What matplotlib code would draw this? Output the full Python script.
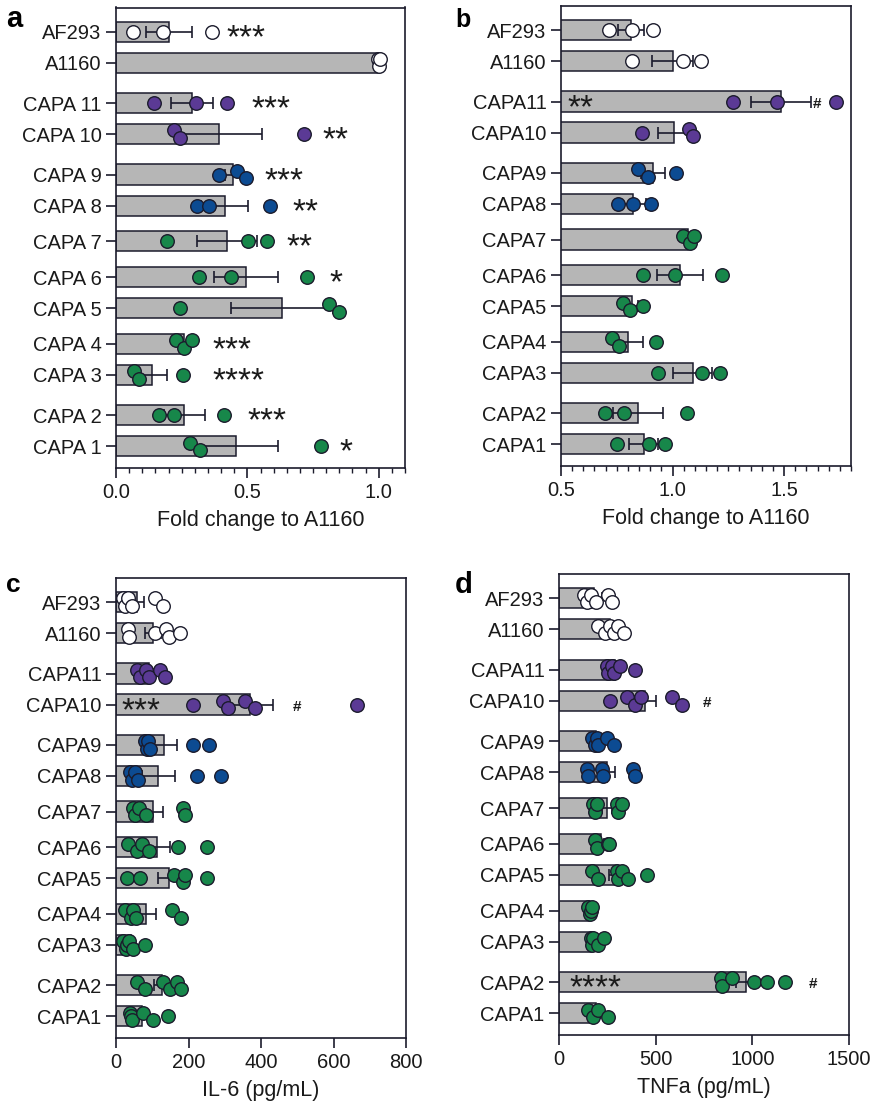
import numpy as np
import matplotlib
matplotlib.use('Agg')
import matplotlib.pyplot as plt
from matplotlib import rcParams, transforms
from matplotlib.ticker import MultipleLocator, FormatStrFormatter

rcParams['font.family'] = ['Liberation Sans', 'DejaVu Sans']

# --- data ---
labels_a = ['AF293', 'A1160', 'CAPA 11', 'CAPA 10', 'CAPA 9', 'CAPA 8', 'CAPA 7',
            'CAPA 6', 'CAPA 5', 'CAPA 4', 'CAPA 3', 'CAPA 2', 'CAPA 1']
labels = ['AF293', 'A1160', 'CAPA11', 'CAPA10', 'CAPA9', 'CAPA8', 'CAPA7',
          'CAPA6', 'CAPA5', 'CAPA4', 'CAPA3', 'CAPA2', 'CAPA1']
groups = ['wt', 'wt', 'purple', 'purple', 'blue', 'blue',
          'green', 'green', 'green', 'green', 'green', 'green', 'green']

a_bar = [0.203, 1.0, 0.288, 0.392, 0.446, 0.414, 0.423, 0.494, 0.631, 0.257, 0.136, 0.26, 0.458]
a_err = [0.088, 0.0, 0.080, 0.162, 0.030, 0.089, 0.114, 0.122, 0.194, 0.018, 0.057, 0.077, 0.159]
a_pts = [[0.063, 0.18, 0.364], [0.996, 1.0, 1.004], [0.146, 0.304, 0.421], [0.222, 0.243, 0.715],
         [0.392, 0.459, 0.493], [0.307, 0.355, 0.586], [0.196, 0.503, 0.573], [0.317, 0.437, 0.727],
         [0.244, 0.809, 0.847], [0.228, 0.26, 0.29], [0.07, 0.088, 0.254], [0.164, 0.219, 0.412],
         [0.28, 0.318, 0.779]]

b_bar = [0.813, 1.0, 1.487, 1.007, 0.913, 0.823, 1.07, 1.033, 0.817, 0.802, 1.09, 0.843, 0.87]
b_err = [0.057, 0.09, 0.134, 0.07, 0.054, 0.057, 0.015, 0.102, 0.027, 0.066, 0.087, 0.112, 0.063]
b_pts = [[0.716, 0.82, 0.913], [0.82, 1.048, 1.127], [1.272, 1.467, 1.731], [0.865, 1.075, 1.093],
         [0.843, 0.889, 1.015], [0.757, 0.823, 0.903], [1.045, 1.079, 1.097], [0.868, 1.012, 1.222],
         [0.778, 0.81, 0.868], [0.728, 0.76, 0.925], [0.937, 1.13, 1.213], [0.696, 0.783, 1.063],
         [0.749, 0.895, 0.967]]

c_bar = [57, 103, 91, 370, 133, 117, 103, 114, 147, 83, 40, 126, 71]
c_err = [20, 22, 12, 64, 34, 46, 28, 35, 32, 27, 9, 20, 16]
c_pts = [[20, 25, 34, 43, 108, 129], [34, 37, 108, 138, 145, 177], [57, 66, 83, 92, 121, 135],
         [213, 294, 310, 356, 383, 664], [80, 85, 89, 94, 213, 257], [39, 45, 52, 62, 224, 290],
         [48, 52, 64, 83, 186, 190], [34, 59, 71, 92, 172, 252], [31, 66, 160, 184, 190, 250],
         [25, 40, 48, 55, 154, 179], [20, 28, 29, 37, 48, 80], [57, 80, 129, 149, 167, 179],
         [39, 40, 45, 75, 101, 144]]

d_bar = [183, 264, 290, 445, 190, 247, 247, 217, 298, 155, 165, 969, 190]
d_err = [40, 22, 22, 57, 20, 45, 25, 15, 38, 5, 12, 55, 22]
d_pts = [[131, 143, 166, 190, 255, 276], [203, 238, 264, 286, 303, 338], [247, 255, 276, 286, 316, 393],
         [264, 350, 393, 424, 583, 638], [172, 186, 195, 203, 247, 286], [143, 152, 221, 229, 384, 393],
         [178, 186, 195, 298, 307, 324], [186, 195, 255, 259], [172, 203, 298, 307, 324, 359, 457],
         [150, 160, 165, 172], [166, 172, 178, 203, 234], [836, 845, 893, 1009, 1078, 1169],
         [152, 178, 203, 255]]

# significance marks: (row, x, text)
a_stars = [(0, 0.42, '***'), (2, 0.517, '***'), (3, 0.787, '**'), (4, 0.567, '***'),
           (5, 0.673, '**'), (6, 0.65, '**'), (7, 0.814, '*'), (9, 0.369, '***'),
           (10, 0.369, '****'), (11, 0.502, '***'), (12, 0.852, '*')]
b_stars = [(2, 0.531, '**')]
b_hash = [(2, 1.628)]
c_stars = [(3, 16, '***')]
c_hash = [(3, 488)]
d_stars = [(11, 52, '****')]
d_hash = [(3, 745), (11, 1293)]

# --- style ---
colors = {'wt': 'white', 'purple': '#5b3a95', 'blue': '#0c4b92', 'green': '#17874a'}
edge = '#1b1b2c'
bar_fill = '#b6b6b6'
W, H = 872, 1110

steps = [1, 1.3, 1, 1.3, 1, 1.15, 1.15, 1, 1.15, 1, 1.3, 1]
ypos = np.concatenate([[0], np.cumsum(steps)])

fig = plt.figure(figsize=(W / 100, H / 100), dpi=100)


def jitter(vals, px_per_unit, diam=12.0, d=0.12):
    # simple up/down stagger for dots that overlap along x
    vals = np.asarray(vals, dtype=float)
    order = np.argsort(vals)
    offs = np.zeros(len(vals))
    clusters = [[order[0]]]
    for i in order[1:]:
        gap = (vals[i] - vals[clusters[-1][-1]]) * px_per_unit
        if gap < 1:
            continue
        if gap < diam * 0.9:
            clusters[-1].append(i)
        else:
            clusters.append([i])
    for cl in clusters:
        if len(cl) > 1:
            for k, i in enumerate(cl):
                offs[i] = d if k % 2 else -d
    return offs


def panel(rect, names, bars, errs, pts, xlim, xlabel, stars, hashes, letter, letter_pos, letter_fs):
    ax = fig.add_axes(rect)
    ax.barh(ypos, bars, height=0.65, color=bar_fill, edgecolor=edge, linewidth=1.1, zorder=1)
    ax.errorbar(bars, ypos, xerr=errs, fmt='none', ecolor=edge, elinewidth=1.2,
                capsize=4.5, capthick=1.2, zorder=2)
    ppu = rect[2] * W / (xlim[1] - xlim[0])
    for i, p in enumerate(pts):
        off = jitter(p, ppu)
        ax.scatter(p, ypos[i] + off, s=95, c=colors[groups[i]], edgecolors=edge,
                   linewidths=1.0, zorder=3, clip_on=False)
    star_tr = transforms.offset_copy(ax.transData, fig=fig, y=-11, units='points')
    for row, x, txt in stars:
        ax.text(x, ypos[row], txt, transform=star_tr, fontsize=24,
                va='baseline', ha='left', color='#1a1a1a', zorder=4)
    hash_tr = transforms.offset_copy(ax.transData, fig=fig, y=-4.5, units='points')
    for row, x in hashes:
        ax.text(x, ypos[row], '#', transform=hash_tr, fontsize=11, fontweight='bold',
                va='baseline', ha='left', color='#1a1a1a', zorder=4)
    ax.set_xlim(*xlim)
    ax.set_ylim(14.05, -0.78)
    ax.set_yticks(ypos)
    ax.set_yticklabels(names)
    ax.set_xlabel(xlabel, fontsize=15.5, labelpad=6, color='#1a1a1a')
    for s in ax.spines.values():
        s.set_color(edge)
        s.set_linewidth(1.2)
    ax.tick_params(axis='both', labelsize=14.5, colors=edge, labelcolor='#1a1a1a',
                   width=1.2, length=7, pad=3.5)
    ax.tick_params(axis='x', which='minor', width=1.0, length=3.5, colors=edge)
    fig.text(letter_pos[0] / W, 1 - letter_pos[1] / H, letter, fontsize=letter_fs,
             fontweight='bold', ha='left', va='baseline')
    return ax


ax1 = panel([116 / W, 1 - 468 / H, 289 / W, 460.5 / H], labels_a, a_bar, a_err, a_pts,
            (0, 1.1), 'Fold change to A1160', a_stars, [], 'a', (6, 27), 21)
ax1.xaxis.set_major_locator(MultipleLocator(0.5))
ax1.xaxis.set_minor_locator(MultipleLocator(0.05))
ax1.xaxis.set_major_formatter(FormatStrFormatter('%.1f'))

ax2 = panel([561 / W, 1 - 466 / H, 290 / W, 460 / H], labels, b_bar, b_err, b_pts,
            (0.5, 1.8), 'Fold change to A1160', b_stars, b_hash, 'b', (455, 27), 18)
ax2.xaxis.set_major_locator(MultipleLocator(0.5))
ax2.xaxis.set_minor_locator(MultipleLocator(0.05))
ax2.xaxis.set_major_formatter(FormatStrFormatter('%.1f'))

ax3 = panel([116 / W, 1 - 1038 / H, 290 / W, 460 / H], labels, c_bar, c_err, c_pts,
            (0, 800), 'IL-6 (pg/mL)', c_stars, c_hash, 'c', (6, 592), 19)
ax3.xaxis.set_major_locator(MultipleLocator(200))

ax4 = panel([559 / W, 1 - 1035 / H, 290 / W, 461 / H], labels, d_bar, d_err, d_pts,
            (0, 1500), 'TNFa (pg/mL)', d_stars, d_hash, 'd', (455, 593), 21)
ax4.xaxis.set_major_locator(MultipleLocator(500))

plt.savefig('out.png', dpi=100)
